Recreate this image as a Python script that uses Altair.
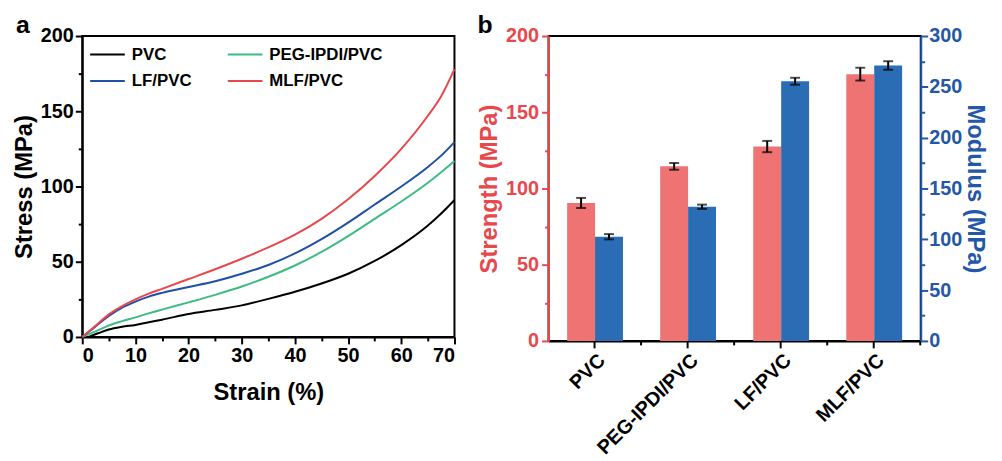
import altair as alt
import pandas as pd

FONT = "Liberation Sans"
RED_AX = "#e8474c"
BLUE_AX = "#2457a8"
RED_BAR = "#f07374"
BLUE_BAR = "#2a6db5"

# ---- panel a data: stress-strain curves ----
strain = [0, 1, 2, 3, 5, 7.5, 10, 12.5, 15, 20, 25, 30, 35, 40, 45, 50, 55, 60, 65, 67.5, 70]
pvc = [0, 0, 1.2, 2.5, 5, 6.8, 8, 9.8, 11.5, 15.3, 18, 21, 25.3, 30, 35.5, 42, 50.5, 61, 74, 82, 91]
peg = [0, 1.5, 3, 4.5, 7.6, 10.5, 13, 15.7, 18.2, 23, 28, 33.5, 40, 47.5, 56.5, 67, 78.5, 90, 102.5, 109.5, 117]
lf = [0, 2.8, 5.5, 8.5, 14, 19.5, 23.5, 26.8, 29.3, 33.2, 37, 42, 47.8, 55.5, 65, 76, 88, 100, 113, 120.5, 129.5]
mlf = [0, 3, 6, 9, 15, 20.5, 25, 28.8, 32, 38.5, 45, 52, 59.5, 68, 78.5, 91.5, 107, 125, 147, 160, 178]

materials = ["PVC", "PEG-IPDI/PVC", "LF/PVC", "MLF/PVC"]
# legend is filled column by column; this order gives rows "PVC  PEG-IPDI/PVC" / "LF/PVC  MLF/PVC"
legend_order = ["PVC", "LF/PVC", "PEG-IPDI/PVC", "MLF/PVC"]
legend_colors = ["#000000", "#1f4fa6", "#3dbb84", "#e8474c"]

# ---- panel b data: bars ----
categories = ["PVC", "PEG-IPDI/PVC", "LF/PVC", "MLF/PVC"]
strength = [90.5, 114.5, 127.5, 175]
strength_err = [3.3, 2.2, 3.7, 4.2]
modulus = [102.5, 132, 255.5, 271]
modulus_err = [2.6, 2.1, 3.4, 4.2]

rows = []
for name, vals in zip(materials, [pvc, peg, lf, mlf]):
    for s, v in zip(strain, vals):
        rows.append({"material": name, "strain": s, "stress": v})
df_lines = pd.DataFrame(rows)

df_bar = pd.DataFrame({
    "cat": categories,
    "strength": strength,
    "s_lo": [v - e for v, e in zip(strength, strength_err)],
    "s_hi": [v + e for v, e in zip(strength, strength_err)],
    "modulus": modulus,
    "m_lo": [v - e for v, e in zip(modulus, modulus_err)],
    "m_hi": [v + e for v, e in zip(modulus, modulus_err)],
})


def minor_size(step, major=7, minor=4):
    return {"condition": {"test": f"datum.value % {step} === 0", "value": major}, "value": minor}


# ---------------- panel a ----------------
x_axis_a = alt.Axis(
    values=list(range(0, 71, 5)),
    labelExpr="datum.value % 10 === 0 ? datum.label : ''",
    tickSize=minor_size(10),
    title="Strain (%)", titlePadding=15,
    labelPadding=2, labelFontSize=20, labelColor="black",
    titleFontSize=24, titleColor="black",
    domainColor="black", domainWidth=2, tickColor="black", tickWidth=2,
)
y_axis_a = alt.Axis(
    values=list(range(0, 201, 25)),
    labelExpr="datum.value % 50 === 0 ? datum.label : ''",
    tickSize=minor_size(50),
    title="Stress (MPa)", titlePadding=4,
    labelPadding=2, labelFontSize=20, labelColor="black",
    titleFontSize=24, titleColor="black",
    domainColor="black", domainWidth=2, tickColor="black", tickWidth=2,
)
legend_a = alt.Legend(
    title=None, orient="none", legendX=7, legendY=0, columns=2,
    symbolType="stroke", symbolSize=1225, symbolStrokeWidth=2,
    labelFont=FONT, labelFontSize=17, labelFontWeight="bold", labelColor="black",
    labelOffset=6, columnPadding=32, rowPadding=-17, padding=0,
)

lines = alt.Chart(df_lines).mark_line(strokeWidth=2, interpolate="monotone").encode(
    x=alt.X("strain:Q", scale=alt.Scale(domain=[0, 70], nice=False), axis=x_axis_a),
    y=alt.Y("stress:Q", scale=alt.Scale(domain=[0, 200], nice=False), axis=y_axis_a),
    color=alt.Color("material:N", scale=alt.Scale(domain=legend_order, range=legend_colors),
                    sort=legend_order, legend=legend_a),
)
label_a = alt.Chart(pd.DataFrame({"t": ["a"]})).mark_text(
    font=FONT, fontSize=25, fontWeight="bold", color="black", align="center", baseline="alphabetic"
).encode(x=alt.value(-60), y=alt.value(-3), text="t:N")

panel_a = alt.layer(lines, label_a).properties(width=376, height=304)

# ---------------- panel b ----------------
x_scale_b = alt.Scale(paddingInner=0.4, paddingOuter=0.2)
x_enc = alt.X(
    "cat:N", sort=categories, scale=x_scale_b,
    axis=alt.Axis(orient="bottom", title=None, labelAngle=-45, labelFontSize=20, labelColor="black",
                  labelPadding=2, domainColor="black", domainWidth=2,
                  tickColor="black", tickWidth=2, tickSize=7),
)
# minor ticks halfway between categories
x_enc_minor = alt.X(
    "cat:N", sort=categories, scale=x_scale_b,
    axis=alt.Axis(orient="bottom", title=None, labels=False, domain=False,
                  bandPosition=1.3333, tickColor="black", tickWidth=2, tickSize=4),
)
xoff = alt.XOffset("series:N", scale=alt.Scale(domain=["Strength", "Modulus"], paddingInner=0, paddingOuter=0))

red_axis = alt.Axis(
    orient="left", values=list(range(0, 201, 25)),
    labelExpr="datum.value % 50 === 0 ? datum.label : ''",
    tickSize=minor_size(50),
    title="Strength (MPa)", titlePadding=4, titleFontSize=24, titleColor=RED_AX,
    labelPadding=3, labelFontSize=20, labelColor=RED_AX,
    domainColor=RED_AX, domainWidth=2, tickColor=RED_AX, tickWidth=2,
)
blue_axis = alt.Axis(
    orient="right", values=list(range(0, 301, 25)),
    labelExpr="datum.value % 50 === 0 ? datum.label : ''",
    tickSize=minor_size(50),
    title="Modulus (MPa)", titlePadding=1, titleFontSize=24, titleColor=BLUE_AX,
    labelPadding=1, labelFontSize=20, labelColor=BLUE_AX,
    domainColor=BLUE_AX, domainWidth=2, tickColor=BLUE_AX, tickWidth=2,
)

red_base = alt.Chart(df_bar).transform_calculate(series="'Strength'")
red_scale = alt.Scale(domain=[0, 200], nice=False)
red_bar = red_base.mark_bar(color=RED_BAR).encode(
    x=x_enc, xOffset=xoff, y=alt.Y("strength:Q", scale=red_scale, axis=red_axis))
red_rule = red_base.mark_rule(color="black", strokeWidth=2).encode(
    x=x_enc, xOffset=xoff, y=alt.Y("s_lo:Q", scale=red_scale, axis=red_axis), y2="s_hi:Q")
red_cap1 = red_base.mark_tick(color="black", thickness=2, size=10).encode(
    x=x_enc, xOffset=xoff, y=alt.Y("s_hi:Q", scale=red_scale, axis=red_axis))
red_cap2 = red_base.mark_tick(color="black", thickness=2, size=10).encode(
    x=x_enc, xOffset=xoff, y=alt.Y("s_lo:Q", scale=red_scale, axis=red_axis))
label_b = alt.Chart(pd.DataFrame({"t": ["b"]})).mark_text(
    font=FONT, fontSize=25, fontWeight="bold", color="black", align="center", baseline="alphabetic"
).encode(x=alt.value(-64), y=alt.value(-3), text="t:N")
red_group = alt.layer(red_bar, red_rule, red_cap1, red_cap2, label_b)

blue_base = alt.Chart(df_bar).transform_calculate(series="'Modulus'")
blue_scale = alt.Scale(domain=[0, 300], nice=False)
blue_bar = blue_base.mark_bar(color=BLUE_BAR).encode(
    x=x_enc_minor, xOffset=xoff, y=alt.Y("modulus:Q", scale=blue_scale, axis=blue_axis))
blue_rule = blue_base.mark_rule(color="black", strokeWidth=2).encode(
    x=x_enc_minor, xOffset=xoff, y=alt.Y("m_lo:Q", scale=blue_scale, axis=blue_axis), y2="m_hi:Q")
blue_cap1 = blue_base.mark_tick(color="black", thickness=2, size=10).encode(
    x=x_enc_minor, xOffset=xoff, y=alt.Y("m_hi:Q", scale=blue_scale, axis=blue_axis))
blue_cap2 = blue_base.mark_tick(color="black", thickness=2, size=10).encode(
    x=x_enc_minor, xOffset=xoff, y=alt.Y("m_lo:Q", scale=blue_scale, axis=blue_axis))
blue_group = alt.layer(blue_bar, blue_rule, blue_cap1, blue_cap2)

panel_b = alt.layer(red_group, blue_group).resolve_scale(y="independent").resolve_axis(
    x="independent").properties(width=376, height=308)

chart = alt.hconcat(panel_a, panel_b, spacing=17).properties(
    padding={"left": 3, "top": 2, "right": 6, "bottom": 0}
).configure_view(stroke="black", strokeWidth=2).configure_axis(
    grid=False, labelFont=FONT, titleFont=FONT, labelFontWeight="bold", titleFontWeight="bold"
)

chart.save("out.html", embed_options={"renderer": "svg", "actions": False})
